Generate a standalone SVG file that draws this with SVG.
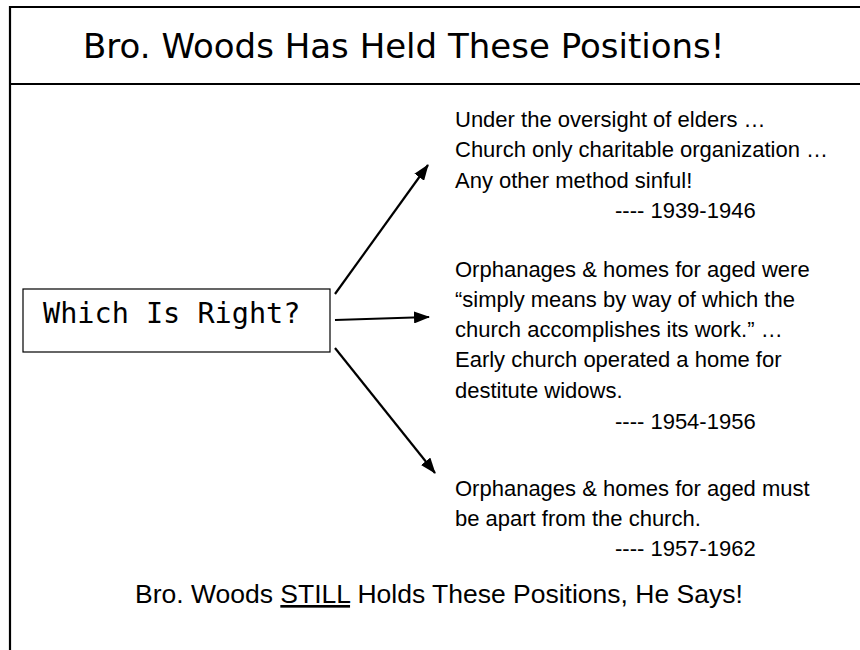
<svg xmlns="http://www.w3.org/2000/svg" width="860" height="650" viewBox="0 0 860 650">
<style>
.frame{stroke:#000;stroke-width:2.2;fill:none}
.conn{stroke:#000;stroke-width:2.2;fill:none;marker-end:url(#ah)}
.body{font-family:"Liberation Sans",Arial,sans-serif;font-size:22px;fill:#000}
.title{font-family:"DejaVu Sans",Verdana,sans-serif;font-size:34px;fill:#000}
.mono{font-family:"DejaVu Sans Mono","Liberation Mono",monospace;font-size:28.5px;fill:#000}
</style>
<defs>
<marker id="ah" viewBox="0 0 16 12" refX="15" refY="6" markerWidth="16" markerHeight="12" markerUnits="userSpaceOnUse" orient="auto">
<path d="M0,0 L16,6 L0,12 Z" fill="#000"/>
</marker>
</defs>
<rect width="860" height="650" fill="#fff"/>
<g id="frame">
<path class="frame" d="M10,650 V7 H860 M10,84 H860"/>
</g>
<g id="title">
<text class="title" x="83" y="58">Bro. Woods Has Held These Positions!</text>
</g>
<g id="question">
<rect x="23" y="289" width="307" height="63" fill="#fff" stroke="#000" stroke-width="1.2"/>
<text class="mono" x="43" y="323">Which Is Right?</text>
</g>
<g id="connectors">
<line class="conn" x1="335" y1="294" x2="428" y2="165"/>
<line class="conn" x1="335" y1="320" x2="429" y2="317"/>
<line class="conn" x1="335" y1="348" x2="435" y2="473"/>
</g>
<g id="position1">
<text class="body" x="455" y="127">Under the oversight of elders …</text>
<text class="body" x="455" y="157">Church only charitable organization …</text>
<text class="body" x="455" y="188">Any other method sinful!</text>
<text class="body" x="615" y="218">---- 1939-1946</text>
</g>
<g id="position2">
<text class="body" x="455" y="277">Orphanages &amp; homes for aged were</text>
<text class="body" x="455" y="307">“simply means by way of which the</text>
<text class="body" x="455" y="337">church accomplishes its work.” …</text>
<text class="body" x="455" y="367">Early church operated a home for</text>
<text class="body" x="455" y="398">destitute widows.</text>
<text class="body" x="615" y="429">---- 1954-1956</text>
</g>
<g id="position3">
<text class="body" x="455" y="496">Orphanages &amp; homes for aged must</text>
<text class="body" x="455" y="526">be apart from the church.</text>
<text class="body" x="615" y="556">---- 1957-1962</text>
</g>
<g id="footer">
<text class="body" x="135" y="603" style="font-size:26.5px">Bro. Woods <tspan text-decoration="underline">STILL</tspan> Holds These Positions, He Says!</text>
</g>
</svg>
